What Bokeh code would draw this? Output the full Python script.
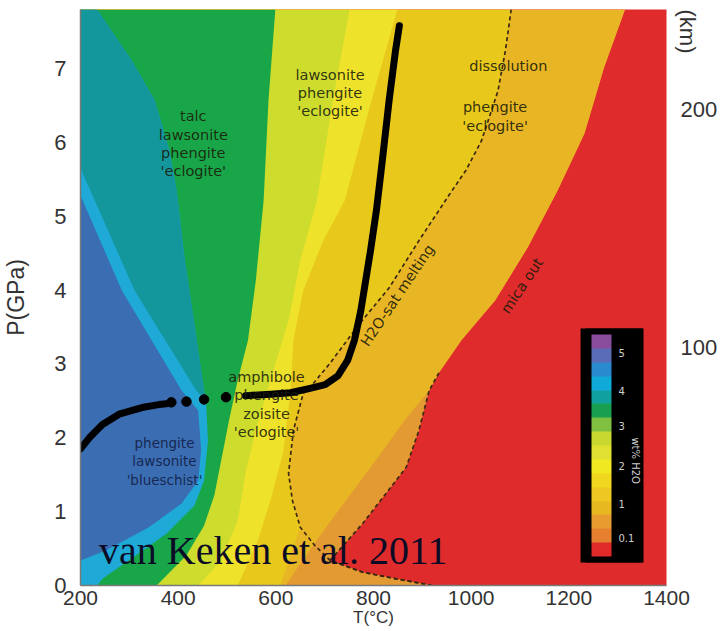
import math
from bokeh.plotting import figure
from bokeh.models import (Range1d, LinearAxis, FixedTicker, ColorBar, LinearColorMapper,
                          Label, BoxAnnotation, Title)
from bokeh.embed import file_html
from bokeh.resources import INLINE
from bokeh.core.properties import value

# ---------------- axes ----------------
T_MIN, T_MAX = 200, 1400
P_MIN, P_MAX = 0.0, 7.8
KM_PER_GPA = 31.0
x_ticks = [200, 400, 600, 800, 1000, 1200, 1400]
y_ticks = [0, 1, 2, 3, 4, 5, 6, 7]
depth_ticks = [100, 200]

# ---------------- region boundaries (T in degC, P in GPa), top -> bottom ----------------
mica_T = [1315, 1272, 1232, 1177, 1116, 1049, 980, 934, 914]
mica_P = [7.80, 7.01, 6.12, 5.35, 4.58, 3.86, 3.32, 2.88, 2.64]
lobe_T = [934, 914, 893, 867, 826, 778, 711, 778, 847, 920]
lobe_P = [2.88, 2.64, 2.10, 1.60, 1.25, 0.84, 0.34, 0.18, 0.09, 0.0]
gold_orange_T = [914, 863, 812, 751, 691, 640, 620]
gold_orange_P = [2.64, 2.23, 1.76, 1.22, 0.68, 0.20, 0.0]
h2o_T = [1082, 1070, 1055, 1021, 989, 954, 893, 832, 772, 711, 676, 656, 636, 626, 634, 650, 680, 711]
h2o_P = [7.80, 7.24, 6.70, 6.02, 5.62, 5.28, 4.67, 4.03, 3.55, 3.01, 2.73, 2.60, 2.10, 1.52, 1.15, 0.79, 0.54, 0.34]
yellow_tail_T = [609]
yellow_tail_P = [0.0]
bright_T = [849, 796, 741, 697, 656, 636, 630, 616, 589, 563, 522]
bright_P = [7.80, 6.57, 5.21, 4.67, 3.99, 3.32, 2.64, 1.83, 1.15, 0.61, 0.0]
ygreen_T = [751, 717, 684, 650, 626, 589, 559, 539, 522, 488, 441]
ygreen_P = [7.80, 6.57, 5.21, 4.40, 3.59, 2.78, 2.10, 1.56, 0.88, 0.34, 0.0]
green_T = [599, 585, 575, 559, 543, 522, 504, 488, 474, 453, 417, 356]
green_P = [7.80, 6.57, 5.21, 4.13, 3.32, 2.78, 2.23, 1.69, 1.22, 0.81, 0.41, 0.0]
teal_green_T = [234, 305, 352, 382, 397, 413, 433, 453, 457]
teal_green_P = [7.80, 7.11, 6.57, 5.89, 5.35, 4.44, 3.55, 2.64, 2.50]
cyan_green_T = [461, 453, 433, 376, 305, 245, 234]
cyan_green_P = [1.96, 1.42, 1.08, 0.70, 0.37, 0.09, 0.0]
cyan_teal_T = [437, 311, 200]
cyan_teal_P = [2.64, 3.99, 5.65]
blue_T = [200, 285, 407, 441, 447, 441, 407, 340, 251, 200]
blue_P = [5.28, 3.99, 2.64, 2.37, 1.83, 1.42, 1.11, 0.79, 0.47, 0.34]

region_colors = {
    "red": "#df2b2b", "orange": "#e49a32", "gold": "#e8b524", "yellow": "#e9c81c",
    "bright": "#efe22a", "ygreen": "#cedc2e", "green": "#19a648", "cyan": "#1fa9d6",
    "teal": "#14979c", "blue": "#3a6db2",
}

# ---------------- subduction P-T path ----------------
path_lo_T = [200, 218, 245, 279, 326, 360, 376]
path_lo_P = [1.85, 2.00, 2.18, 2.32, 2.41, 2.45, 2.46]
dots_T = [386, 417, 453, 498]
dots_P = [2.48, 2.49, 2.52, 2.55]
path_hi_T = [538, 589, 630, 670, 701, 727, 747, 761, 774, 784, 794, 806, 818, 832, 845, 853]
path_hi_P = [2.57, 2.59, 2.61, 2.67, 2.72, 2.84, 3.05, 3.32, 3.72, 4.13, 4.54, 5.08, 5.75, 6.57, 7.24, 7.58]

# ---------------- labels ----------------
lab_text = ["talc\nlawsonite\nphengite\n'eclogite'", "lawsonite\nphengite\n'eclogite'",
            "dissolution", "phengite\n'eclogite'", "amphibole\nphengite\nzoisite\n'eclogite'",
            "H2O-sat melting", "mica out"]
lab_T = [431, 711, 1076, 1049, 581, 849, 1104]
lab_P = [5.98, 6.67, 7.04, 6.35, 2.45, 3.93, 4.06]
lab_angle = [0, 0, 0, 0, 0, 56, 56]
blues_text = ["phengite\nlawsonite\n'blueschist'"]
blues_T = [372]
blues_P = [1.68]

# ---------------- colour bar ----------------
cb_colors = ["#e02a2a", "#e6802e", "#e89c30", "#e8b820", "#eec822", "#f0d820", "#f0e820", "#e0e030",
             "#c8d830", "#80c040", "#18a050", "#10a0a0", "#10aad8", "#2a8ad0", "#5a6cb8", "#8a4c9c"]
cb_tick_pos = [1.3, 3.8, 6.5, 9.4, 11.9, 14.7]
cb_tick_lab = ["0.1", "1", "2", "3", "4", "5"]

# ======================================================================
p = figure(width=720, height=631, x_range=Range1d(T_MIN, T_MAX), y_range=Range1d(P_MIN, P_MAX),
           output_backend="svg", toolbar_location=None, title_location=None,
           min_border_left=77, min_border_right=52, min_border_top=9, min_border_bottom=46)
p.xgrid.visible = False
p.ygrid.visible = False
p.outline_line_color = None
p.background_fill_color = region_colors["red"]
p.border_fill_color = "white"

left_col_T = [T_MIN, T_MIN]
left_col_P = [P_MIN, P_MAX]

polys = []
polys.append(("orange", mica_T + lobe_T[1:] + left_col_T, mica_P + lobe_P[1:] + left_col_P))
polys.append(("gold", mica_T + gold_orange_T[1:] + left_col_T, mica_P + gold_orange_P[1:] + left_col_P))
i_cut = h2o_P.index(0.79) + 1
polys.append(("yellow", h2o_T[:i_cut] + yellow_tail_T + left_col_T, h2o_P[:i_cut] + yellow_tail_P + left_col_P))
polys.append(("bright", bright_T + left_col_T, bright_P + left_col_P))
polys.append(("ygreen", ygreen_T + left_col_T, ygreen_P + left_col_P))
polys.append(("green", green_T + left_col_T, green_P + left_col_P))
polys.append(("cyan", teal_green_T + cyan_green_T + left_col_T, teal_green_P + cyan_green_P + left_col_P))
polys.append(("teal", teal_green_T + cyan_teal_T + [T_MIN], teal_green_P + cyan_teal_P + [P_MAX]))
polys.append(("blue", blue_T, blue_P))

p.patches(xs=[q[1] for q in polys], ys=[q[2] for q in polys],
          fill_color=[region_colors[q[0]] for q in polys], line_color=None)

# dashed boundaries
dash_col = "#3d2a12"
p.line(h2o_T + lobe_T[-3:], h2o_P + lobe_P[-3:], line_color=dash_col, line_width=1.7, line_dash="4 3")
p.line(lobe_T, lobe_P, line_color=dash_col, line_width=1.7, line_dash="4 3")

# P-T path
p.line(path_lo_T, path_lo_P, line_color="black", line_width=7, line_cap="round", line_join="round")
p.scatter(dots_T, dots_P, size=9.5, color="black")
p.line(path_hi_T, path_hi_P, line_color="black", line_width=7, line_cap="round", line_join="round")

# labels
p.text(x=lab_T, y=lab_P, text=lab_text, angle=[math.radians(a) for a in lab_angle],
       text_font=value("DejaVu Sans"), text_font_size=value("14.5px"), text_align="center",
       text_baseline="middle", text_color="#1a1c0c", text_alpha=0.9, text_line_height=1.15)
p.text(x=blues_T, y=blues_P, text=blues_text, text_font=value("DejaVu Sans"),
       text_font_size=value("13.5px"), text_align="center", text_baseline="middle",
       text_color="#141d45", text_alpha=0.9, text_line_height=1.15)

# axes
tick_font = "Liberation Sans"


def plain(ax):
    ax.major_tick_line_color = None
    ax.minor_tick_line_color = None
    ax.major_tick_out = 0
    ax.major_tick_in = 0
    ax.minor_tick_out = 0
    ax.minor_tick_in = 0
    ax.major_label_text_font = tick_font
    ax.major_label_text_color = "#333333"


for ax in (p.xaxis[0], p.yaxis[0]):
    plain(ax)
    ax.axis_line_color = "#7a7a7a"
    ax.axis_line_width = 1.5
    ax.axis_label_text_font = tick_font
    ax.axis_label_text_font_style = "normal"
    ax.axis_label_text_color = "#333333"
p.xaxis[0].ticker = FixedTicker(ticks=x_ticks)
p.yaxis[0].ticker = FixedTicker(ticks=y_ticks)
p.yaxis[0].major_label_text_font_size = "22px"
p.xaxis[0].major_label_text_font_size = "21px"
p.xaxis[0].major_label_standoff = 5
p.yaxis[0].major_label_standoff = 14
p.yaxis[0].axis_label = "P(GPa)"
p.yaxis[0].axis_label_text_font_size = "23px"
p.yaxis[0].axis_label_standoff = 22
p.xaxis[0].axis_label = "T(°C)"
p.xaxis[0].axis_label_text_font_size = "17px"
p.xaxis[0].axis_label_standoff = 0

# depth-axis title: sits next to the frame (first in the right panel), centred 21 px out
km_title = Title(text="(km)", align="left", vertical_align="middle", text_font=tick_font,
                 text_font_size="22px", text_font_style="normal", text_color="#333333",
                 standoff=15)
p.add_layout(km_title, "right")

# depth axis: its standoff is reduced by the title's width so its labels keep their place
p.extra_y_ranges = {"depth": Range1d(P_MIN * KM_PER_GPA, P_MAX * KM_PER_GPA)}
rax = LinearAxis(y_range_name="depth", ticker=FixedTicker(ticks=depth_ticks))
plain(rax)
rax.major_label_text_font_size = "22px"
rax.axis_line_color = None
rax.major_label_standoff = -28
p.add_layout(rax, "right")

# colour bar
cb_frame = BoxAnnotation(left=1224, right=1351, bottom=0.31, top=3.48,
                         fill_color="black", fill_alpha=1.0, line_color=None)
p.add_layout(cb_frame)
mapper = LinearColorMapper(palette=cb_colors, low=0, high=len(cb_colors))
cb = ColorBar(color_mapper=mapper, ticker=FixedTicker(ticks=cb_tick_pos),
              major_label_overrides=dict(zip(cb_tick_pos, cb_tick_lab)),
              location=(505, 23), padding=6, width=20, height=222,
              background_fill_color="black", background_fill_alpha=1.0,
              border_line_color=None, bar_line_color=None,
              major_tick_line_color=None, minor_tick_line_color=None,
              major_label_text_color="#cfcfcf", major_label_text_font="DejaVu Sans",
              major_label_text_font_size="10px", label_standoff=7)
p.add_layout(cb, "center")
p.add_layout(Label(x=1336, y=1.69, text="wt% H2O", angle=-math.pi / 2, text_font="DejaVu Sans",
                   text_font_size="10px", text_color="#cfcfcf", text_align="center",
                   text_baseline="middle"))

# citation
p.add_layout(Label(x=238, y=0.474, text="van Keken et al. 2011", text_font="Liberation Serif",
                   text_font_size="40px", text_color="#0b0b26", text_align="left",
                   text_baseline="alphabetic"))

open("out.html", "w").write(file_html(p, INLINE))
